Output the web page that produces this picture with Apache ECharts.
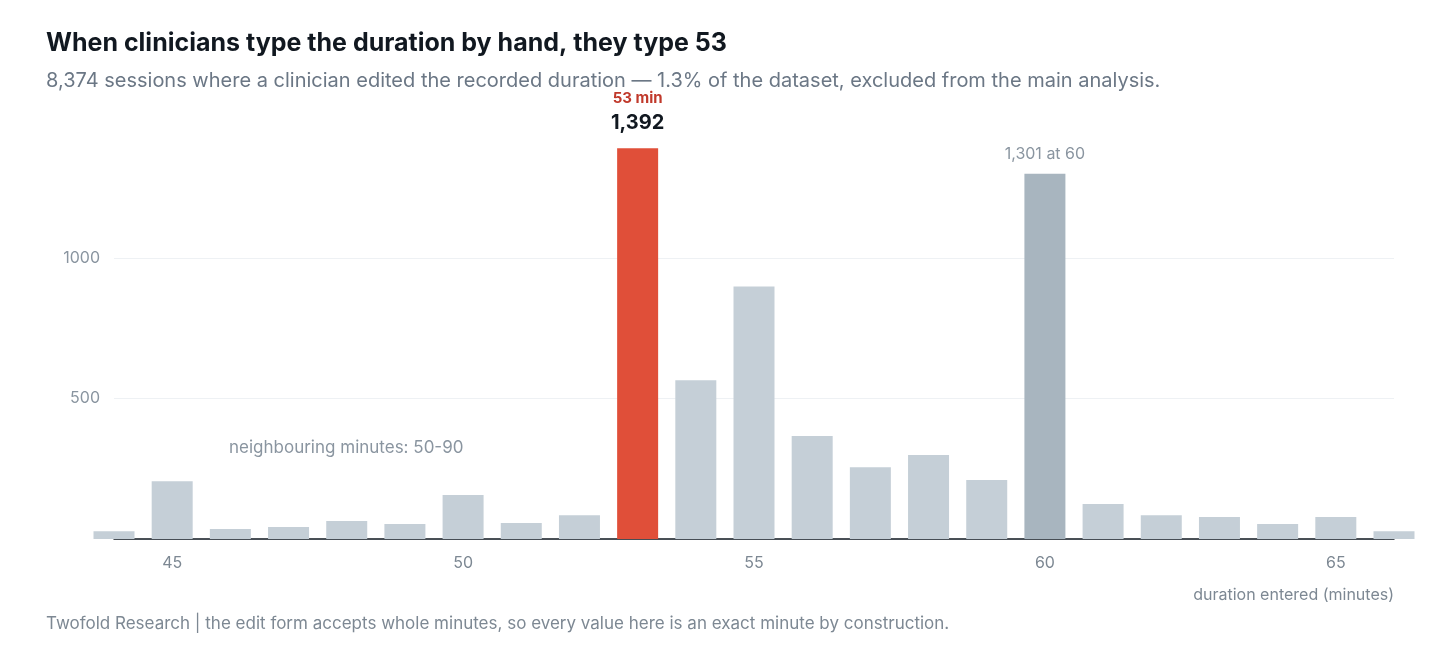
<!DOCTYPE html>
<html><head><meta charset="utf-8">
<script src="https://cdn.jsdelivr.net/npm/echarts@6/dist/echarts.min.js"></script>
<style>html,body{margin:0;padding:0;background:#fff}#c{width:1440px;height:654px}</style>
</head><body><div id="c"></div>
<script>
const minutes = ['44','45','46','47','48','49','50','51','52','53','54','55','56','57','58','59','60','61','62','63','64','65','66'];
const sessions = [28,206,36,43,64,53,157,57,85,1392,566,900,367,256,299,210,1301,125,85,78,53,78,28];
const yTicks = [500,1000];
const chart = echarts.init(document.getElementById('c'));
const F = 'Inter, "Noto Sans", sans-serif';
chart.setOption({
  animation:false,
  textStyle:{fontFamily:F},
  graphic:[
    {type:'text',left:46,top:31,style:{text:'When clinicians type the duration by hand, they type 53',font:'bold 25px '+F,fill:'#111820'}},
    {type:'text',left:46,top:71,style:{text:'8,374 sessions where a clinician edited the recorded duration — 1.3% of the dataset, excluded from the main analysis.',font:'20px '+F,fill:'#6b7785'}},
    {type:'text',left:46,top:615,style:{text:'Twofold Research | the edit form accepts whole minutes, so every value here is an exact minute by construction.',font:'17px '+F,fill:'#7d8893'}},
    {type:'text',left:229,top:439,style:{text:'neighbouring minutes: 50-90',font:'17px '+F,fill:'#8a95a0'}}
  ],
  grid:{left:114,right:46,top:118,bottom:115},
  xAxis:{type:'category',data:minutes,boundaryGap:false,
    axisLine:{lineStyle:{color:'#111820',width:1.5}},axisTick:{show:false},
    axisLabel:{color:'#7d8893',fontSize:16,margin:16,interval:(i,v)=>(+v)%5===0},
    name:'duration entered (minutes)',nameLocation:'end',nameGap:0,
    nameTextStyle:{color:'#7d8893',fontSize:16,align:'right',verticalAlign:'top',padding:[48,0,0,0]}},
  yAxis:{type:'value',min:0,max:1500,interval:500,
    axisLine:{show:false},axisTick:{show:false},
    splitLine:{lineStyle:{color:['#eef1f4','#eef1f4','#eef1f4','rgba(0,0,0,0)']}},
    axisLabel:{color:'#8a95a0',fontSize:16,margin:14,formatter:v=>yTicks.includes(v)?String(v):''}},
  series:[{type:'bar',barWidth:41,
    data:sessions.map((v,i)=>{
      const m=minutes[i];
      if(m==='53') return {value:v,itemStyle:{color:'#e04f39'},
        label:{show:true,position:'top',distance:12,formatter:'{a|53 min}\n{b|1,392}',
          rich:{a:{color:'#c0392b',fontSize:15,fontWeight:'bold',lineHeight:24,fontFamily:F},
                b:{color:'#111820',fontSize:20,fontWeight:'bold',lineHeight:26,fontFamily:F}}}};
      if(m==='60') return {value:v,itemStyle:{color:'#a8b5bf'},
        label:{show:true,position:'top',distance:12,formatter:'1,301 at 60',color:'#8a95a0',fontSize:16,fontFamily:F}};
      return {value:v,itemStyle:{color:'#c5cfd7'}};
    })}]
});
</script></body></html>
